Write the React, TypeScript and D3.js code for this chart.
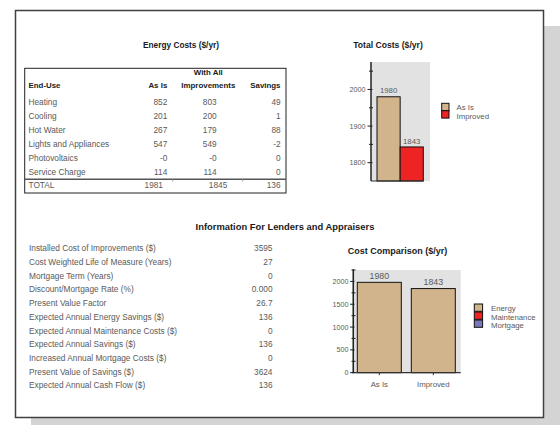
import React from "react";
import * as d3 from "d3";

// ---------- data ----------
const endUses = ["Heating", "Cooling", "Hot Water", "Lights and Appliances", "Photovoltaics", "Service Charge"];
const asIsCosts = ["852", "201", "267", "547", "-0", "114"];
const improvedCosts = ["803", "200", "179", "549", "-0", "114"];
const savingsCosts = ["49", "1", "88", "-2", "0", "0"];
const totalRow = ["TOTAL", "1981", "1845", "136"];

const lenderLabels = [
  "Installed Cost of Improvements ($)",
  "Cost Weighted Life of Measure (Years)",
  "Mortgage Term (Years)",
  "Discount/Mortgage Rate (%)",
  "Present Value Factor",
  "Expected Annual Energy Savings ($)",
  "Expected Annual Maintenance Costs ($)",
  "Expected Annual Savings ($)",
  "Increased Annual Mortgage Costs ($)",
  "Present Value of Savings ($)",
  "Expected Annual Cash Flow ($)",
];
const lenderValues = ["3595", "27", "0", "0.000", "26.7", "136", "0", "136", "0", "3624", "136"];

const totalCategories = ["As Is", "Improved"];
const totalValues = [1980, 1843];
const totalMajorTicks = [1800, 1900, 2000];
const totalMinorTicks = [1850, 1950, 2050];

const compCategories = ["As Is", "Improved"];
const compEnergy = [1980, 1843];
const compMaintenance = [0, 0];
const compMortgage = [0, 0];
const compMajorTicks = [0, 500, 1000, 1500, 2000];
const compMinorTicks = [250, 750, 1250, 1750, 2250];
const compLegend = ["Energy", "Maintenance", "Mortgage"];

// ---------- styles ----------
const FONT = "'Liberation Sans', Arial, Helvetica, sans-serif";
const TXT = "#5a5a5a";
const DARK = "#1a1a1a";
const TAN = "#d2b48c";
const RED = "#ee2424";
const BLUE = "#7777bb";
const PLOT_BG = "#e2e2e2";
const BODY = 8.3;

export default function App() {
  // ---- Total costs chart ----
  const tY = d3.scaleLinear().domain([1750, 2075]).range([181, 62]);
  const tX = d3.scaleBand<string>().domain(totalCategories).range([377, 423.3]).padding(0);
  const tColors = [TAN, RED];

  // ---- Cost comparison chart ----
  const cY = d3.scaleLinear().domain([0, 2250]).range([372.7, 270]);
  const cX = d3
    .scaleBand<string>()
    .domain(compCategories)
    .range([352.3, 460.3])
    .paddingInner(10 / 54)
    .paddingOuter(5 / 54);
  const stack = d3
    .stack<any>()
    .keys(["energy", "maintenance", "mortgage"])(
      compCategories.map((c, i) => ({ cat: c, energy: compEnergy[i], maintenance: compMaintenance[i], mortgage: compMortgage[i] }))
    );
  const compColors = [TAN, RED, BLUE];

  const rowY = (i: number) => 105.3 + i * 13.85;
  const lenderY = (i: number) => 251.2 + i * 13.72;

  return (
    <svg
      width={560}
      height={425}
      style={{ position: "absolute", left: 0, top: 0, fontFamily: FONT }}
    >
      <rect x={0} y={0} width={560} height={425} fill="#ffffff" />
      {/* shadow + panel */}
      <rect x={31} y={26} width={529} height={399} fill="#d4d4d4" />
      <rect x={15.5} y={10.5} width={528} height={407} fill="#ffffff" stroke="#404040" strokeWidth={1.5} />

      {/* ---- Energy costs table ---- */}
      <text x={181} y={48} textAnchor="middle" fontSize={8.3} fontWeight="bold" fill={DARK}>
        Energy Costs ($/yr)
      </text>
      <rect x={24.7} y={68.3} width={261.3} height={124.7} fill="none" stroke="#222" strokeWidth={1} />
      <g fontSize={7.9} fontWeight="bold" fill={DARK}>
        <text x={28.5} y={88.4}>End-Use</text>
        <text x={167.3} y={88.4} textAnchor="end">As Is</text>
        <text x={208.3} y={75} textAnchor="middle">With All</text>
        <text x={208.3} y={88.4} textAnchor="middle">Improvements</text>
        <text x={280.5} y={88.4} textAnchor="end">Savings</text>
      </g>
      <g fontSize={BODY} fill={TXT}>
        {endUses.map((e, i) => (
          <g key={e}>
            <text x={28.5} y={rowY(i)}>{e}</text>
            <text x={167.3} y={rowY(i)} textAnchor="end">{asIsCosts[i]}</text>
            <text x={216.7} y={rowY(i)} textAnchor="end">{improvedCosts[i]}</text>
            <text x={280.7} y={rowY(i)} textAnchor="end">{savingsCosts[i]}</text>
          </g>
        ))}
        <line x1={24.7} x2={286} y1={179.3} y2={179.3} stroke="#555" strokeWidth={1.6} />
        <line x1={172.7} x2={172.7} y1={179.3} y2={181.5} stroke="#999" strokeWidth={1} />
        <line x1={242.7} x2={242.7} y1={179.3} y2={181.5} stroke="#999" strokeWidth={1} />
        <text x={28.5} y={188}>{totalRow[0]}</text>
        <text x={163} y={188} textAnchor="end">{totalRow[1]}</text>
        <text x={227.3} y={188} textAnchor="end">{totalRow[2]}</text>
        <text x={280.5} y={188} textAnchor="end">{totalRow[3]}</text>
      </g>

      {/* ---- Total costs chart ---- */}
      <text x={388} y={47.5} textAnchor="middle" fontSize={8.6} fontWeight="bold" fill={DARK}>
        Total Costs ($/yr)
      </text>
      <rect x={371} y={tY(2075)} width={59} height={tY(1750) - tY(2075)} fill={PLOT_BG} />
      {totalValues.map((v, i) => (
        <g key={i}>
          <rect
            x={tX(totalCategories[i])}
            y={tY(v)}
            width={tX.bandwidth()}
            height={tY(1750) - tY(v)}
            fill={tColors[i]}
            stroke="#111"
            strokeWidth={1}
          />
          <text
            x={(tX(totalCategories[i]) as number) + tX.bandwidth() / 2}
            y={tY(v) - 3.3}
            textAnchor="middle"
            fontSize={7.8}
            fill={TXT}
          >
            {v}
          </text>
        </g>
      ))}
      <line x1={371} x2={371} y1={tY(2075)} y2={tY(1750)} stroke="#222" strokeWidth={1.5} />
      <line x1={371} x2={423.3} y1={tY(1750)} y2={tY(1750)} stroke="#333" strokeWidth={1.2} />
      {totalMajorTicks.map((t) => (
        <g key={t}>
          <line x1={367.5} x2={372.5} y1={tY(t)} y2={tY(t)} stroke="#222" strokeWidth={1} />
          <text x={365.5} y={tY(t) + 2.6} textAnchor="end" fontSize={7.2} fill={TXT}>
            {t}
          </text>
        </g>
      ))}
      {totalMinorTicks.map((t) => (
        <line key={t} x1={369} x2={373} y1={tY(t)} y2={tY(t)} stroke="#222" strokeWidth={1} />
      ))}
      {totalCategories.map((c, i) => (
        <g key={c}>
          <rect x={441.7} y={103.3 + i * 7.4} width={7.3} height={7.4} fill={tColors[i]} stroke="#111" strokeWidth={1} />
          <text x={456.5} y={110.3 + i * 8.6} fontSize={7.8} fill={TXT}>
            {c}
          </text>
        </g>
      ))}

      {/* ---- Lenders info ---- */}
      <text x={285} y={230} textAnchor="middle" fontSize={9.4} fontWeight="bold" fill={DARK}>
        Information For Lenders and Appraisers
      </text>
      <g fontSize={BODY} fill={TXT}>
        {lenderLabels.map((l, i) => (
          <g key={l}>
            <text x={29} y={lenderY(i)}>{l}</text>
            <text x={272.5} y={lenderY(i)} textAnchor="end">{lenderValues[i]}</text>
          </g>
        ))}
      </g>

      {/* ---- Cost comparison chart ---- */}
      <text x={397.5} y={253.5} textAnchor="middle" fontSize={9} fontWeight="bold" fill={DARK}>
        Cost Comparison ($/yr)
      </text>
      <rect x={352} y={270} width={108.7} height={cY(0) - 270} fill={PLOT_BG} />
      {stack.map((layer, li) =>
        layer.map((d, i) =>
          d[1] - d[0] > 0 ? (
            <rect
              key={li + "-" + i}
              x={cX(compCategories[i])}
              y={cY(d[1])}
              width={cX.bandwidth()}
              height={cY(d[0]) - cY(d[1])}
              fill={compColors[li]}
              stroke="#111"
              strokeWidth={1}
            />
          ) : null
        )
      )}
      {compCategories.map((c, i) => {
        const tot = compEnergy[i] + compMaintenance[i] + compMortgage[i];
        return (
          <text
            key={c}
            x={(cX(c) as number) + cX.bandwidth() / 2}
            y={cY(tot) - 3.3}
            textAnchor="middle"
            fontSize={8.8}
            fill={TXT}
          >
            {tot}
          </text>
        );
      })}
      <line x1={353.3} x2={353.3} y1={269.3} y2={cY(0)} stroke="#222" strokeWidth={1.5} />
      <line x1={352} x2={460.7} y1={cY(0)} y2={cY(0)} stroke="#333" strokeWidth={1.3} />
      {compMajorTicks.map((t) => (
        <g key={t}>
          <line x1={350} x2={354.5} y1={cY(t)} y2={cY(t)} stroke="#222" strokeWidth={1} />
          <text x={348.5} y={cY(t) + 2.6} textAnchor="end" fontSize={7.2} fill={TXT}>
            {t}
          </text>
        </g>
      ))}
      {compMinorTicks.map((t) => (
        <line key={t} x1={351.5} x2={355.5} y1={cY(t)} y2={cY(t)} stroke="#222" strokeWidth={1} />
      ))}
      {compCategories.map((c) => {
        const cx = (cX(c) as number) + cX.bandwidth() / 2;
        return (
          <g key={c}>
            <line x1={cx} x2={cx} y1={cY(0)} y2={cY(0) + 2.5} stroke="#333" strokeWidth={1} />
            <text x={cx} y={386.5} textAnchor="middle" fontSize={7.8} fill={TXT}>
              {c}
            </text>
          </g>
        );
      })}
      {compLegend.map((c, i) => (
        <g key={c}>
          <rect x={474.3} y={304 + i * 8} width={8.3} height={7.3} fill={compColors[i]} stroke="#111" strokeWidth={1} />
          <text x={491} y={311 + i * 8.5} fontSize={7.8} fill={TXT}>
            {c}
          </text>
        </g>
      ))}
    </svg>
  );
}
